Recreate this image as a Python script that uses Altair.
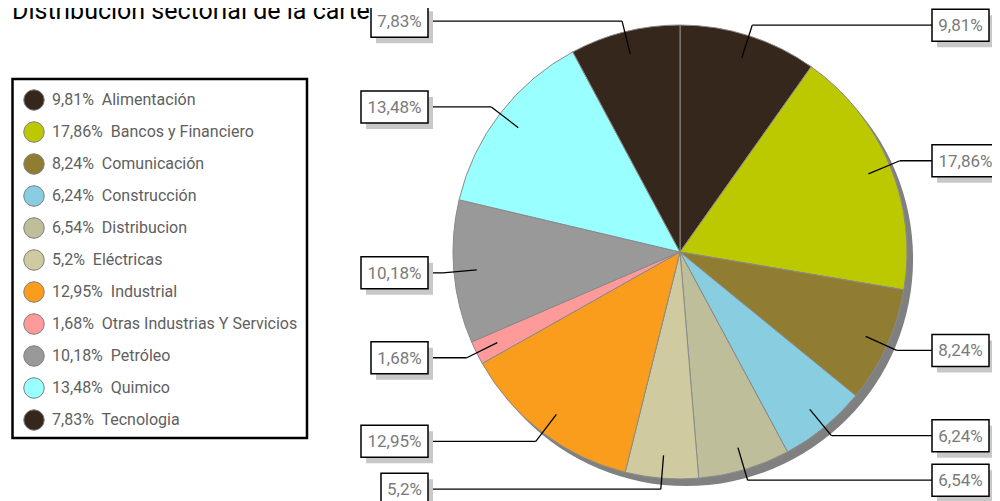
import altair as alt
import pandas as pd
import numpy as np

# ---- data ----
sectors = ["Alimentación", "Bancos y Financiero", "Comunicación", "Construcción",
           "Distribucion", "Eléctricas", "Industrial", "Otras Industrias Y Servicios",
           "Petróleo", "Quimico", "Tecnologia"]
values = [9.81, 17.86, 8.24, 6.24, 6.54, 5.2, 12.95, 1.68, 10.18, 13.48, 7.83]
colors = ["#35271c", "#bcc800", "#917d32", "#89cde0", "#bebe9b", "#d0caa0",
          "#fa9d1c", "#ff9a9a", "#999999", "#99ffff", "#35271c"]
title_text = "Distribución sectorial de la cartera"

# ---- layout (page pixel coordinates) ----
W, H = 984, 493
CX, CY, R = 680, 252, 227
R1, R2 = 204, 238
BOX_R, BOX_L = 932, 428
FONT = "Roboto"

xs = alt.Scale(domain=[8, 8 + W], zero=False, nice=False)
ys = alt.Scale(domain=[8, 8 + H], reverse=True, zero=False, nice=False)

def X(f):
    return alt.X(f, type="quantitative", scale=xs, axis=None)

def Y(f):
    return alt.Y(f, type="quantitative", scale=ys, axis=None)

def fmt(v):
    return f"{v:g}".replace(".", ",") + "%"

total = sum(values)
cum = np.cumsum(values)
rows = []
for i, (s, v) in enumerate(zip(sectors, values)):
    a = 2 * np.pi * (cum[i] - v / 2) / total
    sa, ca = np.sin(a), np.cos(a)
    x1, y1 = CX + R1 * sa, CY - R1 * ca
    xe, ye = CX + R2 * sa, CY - R2 * ca
    lab = fmt(v)
    w = 10 * len(lab) + 7
    right = sa > 0
    bx0 = BOX_R if right else BOX_L - w
    bx1 = bx0 + w
    xend = BOX_R if right else BOX_L
    rows.append(dict(idx=i, sector=s, value=v, lab=lab,
                     legend=f"{lab}\u00a0 {s}",
                     x1=x1, y1=y1, xe=xe, ye=ye, xend=xend,
                     bx0=bx0, bx1=bx1, by0=ye - 16, by1=ye + 16,
                     sx0=bx0 + 5, sx1=bx1 + 5, sy0=ye - 10, sy1=ye + 22,
                     tx=(bx0 + bx1) / 2,
                     cx=CX, cy=CY,
                     lx=34, ly=100 + 32 * i, ltx=52))
df = pd.DataFrame(rows)

color_scale = alt.Scale(domain=sectors, range=colors)

shadow = alt.Chart(pd.DataFrame({"cx": [CX + 6], "cy": [CY + 7]})).mark_arc(
    outerRadius=R, theta=0, theta2=2 * np.pi, color="#808080"
).encode(x=X("cx"), y=Y("cy"))

pie = alt.Chart(df).mark_arc(outerRadius=R, stroke="#8a8a8a", strokeWidth=1).encode(
    theta=alt.Theta("value:Q", stack=True),
    order=alt.Order("idx:Q"),
    color=alt.Color("sector:N", scale=color_scale, legend=None),
    x=X("cx"), y=Y("cy"),
)

line1 = alt.Chart(df).mark_rule(color="black", strokeWidth=1.3).encode(
    x=X("x1"), y=Y("y1"), x2="xe", y2="ye")
line2 = alt.Chart(df).mark_rule(color="black", strokeWidth=1.3).encode(
    x=X("xe"), y=Y("ye"), x2="xend", y2="ye")

box_shadow = alt.Chart(df).mark_rect(color="#c8c8c8").encode(
    x=X("sx0"), x2="sx1", y=Y("sy0"), y2="sy1")
box = alt.Chart(df).mark_rect(fill="white", stroke="black", strokeWidth=1.5).encode(
    x=X("bx0"), x2="bx1", y=Y("by0"), y2="by1")
box_text = alt.Chart(df).mark_text(font=FONT, fontSize=17, color="#7a7a7a",
                                   align="center", baseline="middle", dy=1).encode(
    x=X("tx"), y=Y("ye"), text="lab:N")

legend_box = alt.Chart(pd.DataFrame({"a": [12.5], "b": [307], "c": [79], "d": [438]})).mark_rect(
    fill="white", stroke="black", strokeWidth=2.5).encode(
    x=X("a"), x2="b", y=Y("c"), y2="d")
legend_sym = alt.Chart(df).mark_point(filled=True, shape="circle", size=420,
                                      opacity=1, stroke="#808080", strokeWidth=1).encode(
    x=X("lx"), y=Y("ly"),
    fill=alt.Fill("sector:N", scale=color_scale, legend=None))
legend_txt = alt.Chart(df).mark_text(font=FONT, fontSize=16, color="#606060",
                                     align="left", baseline="middle").encode(
    x=X("ltx"), y=Y("ly"), text="legend:N")

title = alt.Chart(pd.DataFrame({"x": [12], "y": [19], "t": [title_text]})).mark_text(
    font=FONT, fontSize=25, color="black", align="left", baseline="alphabetic").encode(
    x=X("x"), y=Y("y"), text="t:N")

chart = alt.layer(
    title, legend_box, legend_sym, legend_txt,
    shadow, pie, line1, line2, box_shadow, box, box_text
).properties(
    width=W, height=H, padding=0, autosize=alt.AutoSizeParams(type="none")
).configure_view(stroke=None)

chart.save("out.html", embed_options={"renderer": "svg", "actions": False})
